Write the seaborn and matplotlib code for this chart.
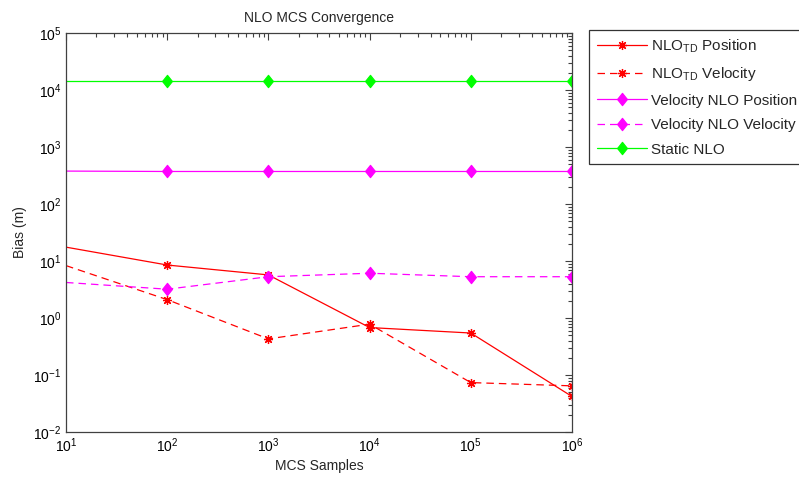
import numpy as np
import pandas as pd
import matplotlib
matplotlib.use("Agg")
import matplotlib.pyplot as plt
import seaborn as sns
from matplotlib.ticker import LogLocator, NullFormatter, FixedLocator
from matplotlib.path import Path

samples = [1e1, 1e2, 1e3, 1e4, 1e5, 1e6]
nlo_td_position = [17.5, 8.5, 5.7, 0.68, 0.545, 0.042]
nlo_td_velocity = [8.3, 2.1, 0.43, 0.78, 0.0736, 0.0645]
vel_nlo_position = [378, 372, 372, 372, 372, 372]
vel_nlo_velocity = [4.2, 3.2, 5.3, 6.1, 5.3, 5.3]
static_nlo = [14200, 14200, 14200, 14200, 14200, 14200]

labels = [r"NLO$_{\mathrm{TD}}$ Position", r"NLO$_{\mathrm{TD}}$ Velocity",
          "Velocity NLO Position", "Velocity NLO Velocity", "Static NLO"]
series = [nlo_td_position, nlo_td_velocity, vel_nlo_position, vel_nlo_velocity, static_nlo]

sns.set_theme(style="white")
plt.rcParams['font.family'] = ['Liberation Sans', 'DejaVu Sans']
plt.rcParams['mathtext.fontset'] = 'custom'
plt.rcParams['mathtext.rm'] = 'Liberation Sans'
plt.rcParams['mathtext.it'] = 'Liberation Sans'

fig = plt.figure(figsize=(7.99, 4.82), dpi=100)
ax = fig.add_axes([66/799, 1-432/482, (572-66)/799, (432-33)/482])

diamond = Path([(0, 1), (0.8, 0), (0, -1), (-0.8, 0), (0, 1)],
               [Path.MOVETO, Path.LINETO, Path.LINETO, Path.LINETO, Path.CLOSEPOLY])
dash = (0, (6, 4))
styles = [
    dict(color=(1, 0, 0), ls='-', marker=(8, 2, 0), ms=6.5),
    dict(color=(1, 0, 0), ls=dash, marker=(8, 2, 0), ms=6.5),
    dict(color=(1, 0, 1), ls='-', marker=diamond, ms=8.8),
    dict(color=(1, 0, 1), ls=dash, marker=diamond, ms=8.8),
    dict(color=(0, 1, 0), ls='-', marker=diamond, ms=8.8),
]

for lab, vals, st in zip(labels, series, styles):
    df = pd.DataFrame({"x": samples, "y": vals})
    sns.lineplot(data=df, x="x", y="y", ax=ax, color=st['color'], linewidth=0.9,
                 dashes=False, marker=st['marker'], markersize=st['ms'],
                 markeredgewidth=0.9, markeredgecolor=st['color'],
                 markerfacecolor=st['color'], label=lab, markevery=[1, 2, 3, 4, 5])
    line = ax.lines[-1]
    line.set_linestyle(st['ls'])

ax.set_xscale('log')
ax.set_yscale('log')
ax.set_xlim(10, 1e6)
ax.set_ylim(1e-2, 1e5)
ax.xaxis.set_major_locator(FixedLocator([1e1, 1e2, 1e3, 1e4, 1e5, 1e6]))
ax.yaxis.set_major_locator(FixedLocator([1e-2, 1e-1, 1e0, 1e1, 1e2, 1e3, 1e4, 1e5]))
ax.xaxis.set_minor_locator(LogLocator(base=10, subs=np.arange(2, 10), numticks=20))
ax.yaxis.set_minor_locator(LogLocator(base=10, subs=np.arange(2, 10), numticks=20))
ax.yaxis.set_minor_formatter(NullFormatter())
ax.xaxis.set_minor_formatter(NullFormatter())

for s in ax.spines.values():
    s.set_color('#404040')
    s.set_linewidth(0.9)
ax.tick_params(which='both', direction='in', top=True, right=True, colors='#404040',
               labelcolor='black', labelsize=10)
ax.tick_params(which='major', length=5, width=0.8)
ax.tick_params(which='minor', length=3, width=0.8)
ax.tick_params(axis='x', pad=3)

ax.set_xlabel("MCS Samples", fontsize=10, labelpad=3)
ax.set_ylabel("Bias (m)", fontsize=10, labelpad=4)
ax.set_title("NLO MCS Convergence", fontsize=10, pad=8)

leg = ax.legend(loc='upper left', bbox_to_anchor=(589/799, 1-30/482),
                bbox_transform=fig.transFigure, frameon=True, fancybox=False,
                fontsize=11, handlelength=3.3, borderpad=0.5, labelspacing=0.68,
                handletextpad=0.25, borderaxespad=0)
leg.get_frame().set_edgecolor('black')
leg.get_frame().set_linewidth(0.9)

fig.savefig("out.png", dpi=100)
